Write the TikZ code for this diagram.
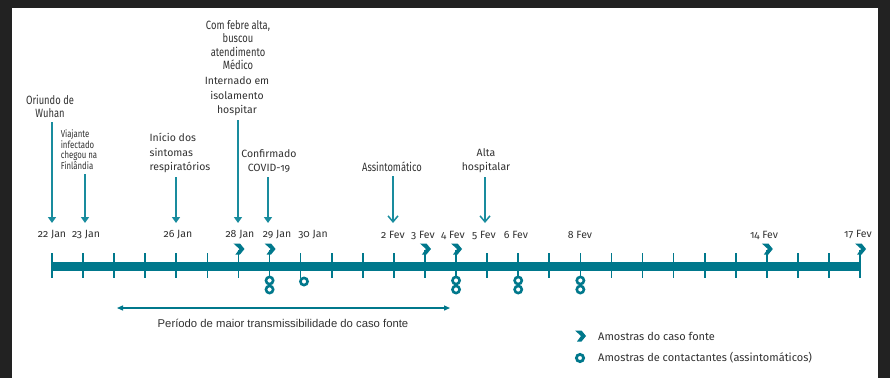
\documentclass[tikz,border=0pt]{standalone}
\usepackage{fontspec}
\setmainfont{Fira Sans}[Numbers=OldStyle]
\newfontfamily\condfont{Fira Sans}[FakeStretch=0.78, Numbers=OldStyle]
\newfontfamily\arialfont{Liberation Sans}
\usetikzlibrary{arrows.meta}
\definecolor{barteal}{RGB}{0,120,140}
\definecolor{arrowteal}{RGB}{25,140,158}
\definecolor{txtgray}{RGB}{50,50,50}
\definecolor{framegray}{RGB}{34,34,34}

\tikzset{
  srcmark/.pic={\fill[barteal] (-5,-5.5) -- (1.5,-5.5) -- (6,0) -- (1.5,5.5) -- (-3,5.5) -- (1,0) -- cycle;},
}

\begin{document}
\begin{tikzpicture}[x=1pt, y=-1pt,
    every node/.style={text=txtgray, inner sep=0pt},
    lbl/.style={font=\fontsize{10.5}{14.5}\selectfont, align=center, anchor=south},
    cond/.style={font=\condfont\fontsize{12}{13.5}\selectfont, align=center, anchor=south},
    date/.style={font=\fontsize{10.5}{12}\selectfont},
    evt/.style={arrowteal, line width=1.5pt, shorten <=4pt, -{Triangle[length=6pt,width=8pt]}},
    evtopen/.style={arrowteal, line width=1.5pt, shorten <=4pt, -{Straight Barb[length=6pt,width=10pt]}},
    tick/.style={barteal, line width=1.7pt},
    ring/.style={barteal, line width=2.6pt},
  ]
        % frame
        \fill[framegray] (0,0) rectangle (890,378);
        \fill[white] (12,8) rectangle (878,378);

        % timeline bar and day ticks
        \draw[barteal, line width=9pt] (52,266) -- (860,266);
        \foreach \d in {0,...,26}
          \draw[tick] ({52+31.08*\d},253) -- ({52+31.08*\d},278);

        % dates
        \node[date] (d22jan) at (52,235) {22 Jan};
        \node[date] (d23jan) at (86,235) {23 Jan};
        \node[date] (d26jan) at (178,235) {26 Jan};
        \node[date] (d28jan) at (240,235) {28 Jan};
        \node[date] (d29jan) at (277,235) {29 Jan};
        \node[date] (d30jan) at (313,235) {30 Jan};
        \node[date] (d2fev) at (393,235) {2 Fev};
        \node[date] (d3fev) at (423,235) {3 Fev};
        \node[date] (d4fev) at (453,235) {4 Fev};
        \node[date] (d5fev) at (484,235) {5 Fev};
        \node[date] (d6fev) at (516,235) {6 Fev};
        \node[date] (d8fev) at (580,235) {8 Fev};
        \node[date] (d14fev) at (764,235) {14 Fev};
        \node[date] (d17fev) at (858,235) {17 Fev};

        % arrow tips over the dates
        \coordinate (t22jan) at (52,223);
        \coordinate (t23jan) at (85,223);
        \coordinate (t26jan) at (176,223);
        \coordinate (t28jan) at (238,223);
        \coordinate (t29jan) at (268,223);
        \coordinate (t2fev) at (393,223);
        \coordinate (t5fev) at (485,223);

        % events
        \node[cond] (oriundo) at (50,118) {Oriundo de\\Wuhan};
        \node[cond, font=\condfont\fontsize{10}{10.8}\selectfont, align=left] (viajante) at (79,170) {Viajante\\infectado\\chegou na\\Finlândia};
        \node[lbl, align=left] (inicio) at (180,173) {Início dos\\sintomas\\respiratórios};
        \node[cond] (febre) at (238,70) {Com febre alta,\\buscou\\atendimento\\Médico};
        \node[lbl] (internado) at (237,116) {Internado em\\isolamento\\hospitar};
        \node[lbl] (confirmado) at (269,173) {Confirmado\\COVID-19};
        \node[cond] (assint) at (392,172) {Assintomático};
        \node[lbl] (alta) at (486,173) {Alta\\hospitalar};

        \draw[evt] (oriundo.south -| t22jan) -- (t22jan);
        \draw[evt] (viajante.south -| t23jan) -- (t23jan);
        \draw[evt] (inicio.south -| t26jan) -- (t26jan);
        \draw[evt] (internado.south -| t28jan) -- (t28jan);
        \draw[evt] (confirmado.south -| t29jan) -- (t29jan);
        \draw[evtopen] (assint.south -| t2fev) -- (t2fev);
        \draw[evtopen] (alta.south -| t5fev) -- (t5fev);

        % samples of the source case
        \foreach \d in {6,7,12,13,23,26} {
          \draw[tick] ({52+31.08*\d},250) -- ({52+31.08*\d},254);
          \pic at ({52+31.08*\d},249) {srcmark};
        }

        % samples of contacts
        \draw[ring] (304,281.5) circle (3.6);
        \foreach \d in {7,13,15,17} {
          \draw[ring] ({52+31.08*\d},280.5) circle (3.6);
          \draw[ring] ({52+31.08*\d},289.5) circle (3.6);
        }

        % period of highest transmissibility
        \coordinate (pstart) at (117,308);
        \coordinate (pend) at (450,308);
        \draw[barteal, line width=1.3pt, {Triangle[length=6pt,width=5pt]}-{Triangle[length=6pt,width=5pt]}] (pstart) -- (pend);
        \node[font=\arialfont\fontsize{11.3}{13}\selectfont] (periodo) at (283,323) {Período de maior transmissibilidade do caso fonte};

        % legend
        \pic (legsrc) at (580,336) {srcmark};
        \node[date, font=\fontsize{11}{13}\selectfont, anchor=west] (legsrctxt) at (598,336) {Amostras do caso fonte};
        \draw[ring, line width=2.8pt] (580,358) circle (3.6);
        \coordinate (legring) at (580,358);
        \node[date, font=\fontsize{11}{13}\selectfont, anchor=west] (legringtxt) at (598,358) {Amostras de contactantes (assintomáticos)};
\end{tikzpicture}
\end{document}
